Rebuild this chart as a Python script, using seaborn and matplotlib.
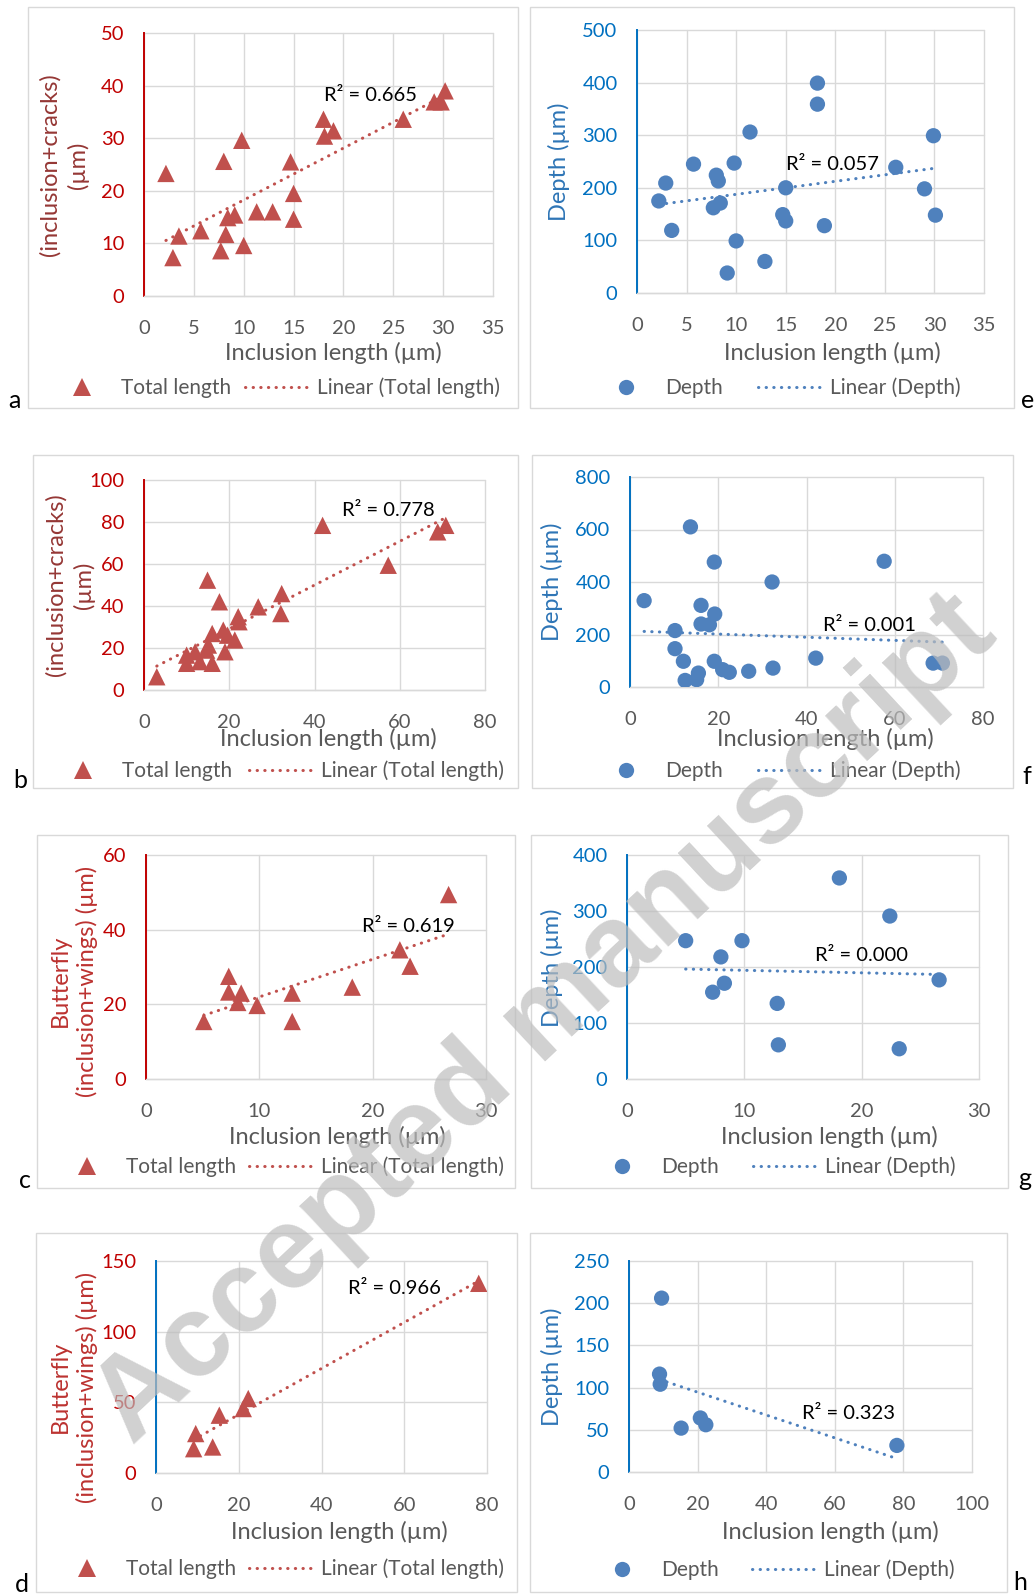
import numpy as np
import matplotlib
matplotlib.use("Agg")
import matplotlib.pyplot as plt
from matplotlib.lines import Line2D
from matplotlib.patches import Rectangle
import seaborn as sns

# ----------------------------------------------------------
# data
# ----------------------------------------------------------

# a - total length (inclusion+cracks) vs inclusion length
a_len = [2.2, 2.9, 3.5, 5.7, 7.7, 8.0, 8.2, 8.4, 9.1, 9.8, 10.0, 11.3,
         12.9, 14.7, 15.0, 15.0, 18.0, 18.1, 19.0, 26.0, 29.1, 29.8, 30.2]
a_total = [23.3, 7.3, 11.4, 12.4, 8.6, 25.6, 11.7, 14.9, 15.4, 29.6, 9.6, 16.0,
           16.0, 25.5, 19.5, 14.6, 33.6, 30.4, 31.4, 33.6, 36.9, 36.9, 39.0]

# e - depth vs inclusion length
e_len = [2.2, 2.9, 3.5, 5.7, 7.7, 8.0, 8.2, 8.4, 9.1, 9.8, 10.0, 11.4,
         12.9, 14.7, 15.0, 15.0, 18.2, 18.2, 18.9, 26.1, 29.0, 29.9, 30.1]
e_depth = [175, 209, 119, 245, 162, 224, 213, 171, 38, 247, 99, 306,
           60, 149, 137, 200, 399, 359, 128, 239, 198, 299, 148]

# b - total length (inclusion+cracks) vs inclusion length
b_len = [3.0, 10.0, 10.0, 12.0, 13.1, 14.7, 15.1, 14.9, 16.0, 16.0, 17.7, 19.0,
         18.6, 19.6, 21.3, 22.1, 22.3, 26.8, 32.1, 32.3, 41.9, 57.3, 68.9, 70.8]
b_total = [6.3, 16.6, 12.7, 18.2, 13.5, 19.0, 21.4, 52.3, 12.7, 26.9, 42.0, 18.2,
           28.5, 26.1, 23.8, 34.9, 32.5, 39.6, 36.4, 45.9, 78.4, 59.4, 75.3, 78.4]

# f - depth vs inclusion length
f_len = [3.2, 10.2, 10.2, 12.1, 12.5, 13.7, 15.1, 15.5, 16.1, 16.1, 18.0, 19.1,
         19.2, 19.1, 21.0, 22.5, 26.9, 32.2, 32.4, 42.1, 57.6, 68.7, 70.8]
f_depth = [329, 215, 146, 98, 25, 610, 28, 53, 311, 240, 237, 476,
           278, 98, 66, 56, 60, 400, 72, 110, 479, 91, 91]

# c - butterfly (inclusion+wings) vs inclusion length
c_len = [5.1, 7.3, 7.3, 8.4, 8.1, 9.8, 12.9, 12.9, 18.2, 22.4, 23.3, 26.7]
c_total = [15.4, 27.5, 23.3, 23.0, 20.5, 19.7, 23.0, 15.4, 24.6, 34.6, 30.2, 49.4]

# g - depth vs inclusion length
g_len = [5.0, 7.3, 8.0, 8.3, 9.8, 12.8, 12.9, 18.1, 22.4, 23.2, 26.6]
g_depth = [247, 155, 218, 171, 247, 135, 61, 359, 291, 54, 177]

# d - butterfly (inclusion+wings) vs inclusion length
d_len = [9.1, 9.6, 13.7, 15.3, 21.1, 22.3, 78.0]
d_total = [17.2, 27.9, 18.4, 40.9, 45.6, 52.7, 134.2]

# h - depth vs inclusion length
h_len = [9.5, 8.9, 9.1, 15.2, 20.8, 22.4, 78.1]
h_depth = [206, 116, 104, 52, 64, 56, 31.5]

r2_labels = ["R² = 0.665", "R² = 0.057", "R² = 0.778", "R² = 0.001",
             "R² = 0.619", "R² = 0.000", "R² = 0.966", "R² = 0.323"]

# ----------------------------------------------------------
# style
# ----------------------------------------------------------

sns.set_theme(style="white")
plt.rcParams['font.family'] = ['Lato', 'DejaVu Sans']

RED_TICK = '#C00000'
RED_LAB = '#953735'
RED_LAB2 = '#BC3230'
BLUE_TICK = '#0070C0'
BLUE_LAB = '#2E75B6'
MARK_RED = '#C0504D'
MARK_BLUE = '#4F81BD'
GREY = '#595959'
GRID = '#D9D9D9'
DOTS = (0, (0.1, 2.4))

TICK_FS = 14.5
LAB_FS = 17
R2_FS = 14.5
LEG_FS = 15
LEG_PX = LEG_FS * 100 / 72

W, H = 1036, 1596
fig = plt.figure(figsize=(W / 100, H / 100), dpi=100)


def fx(px):
    return px / W


def fy(py):
    return 1 - py / H


panels = [
    dict(letter='a', x=a_len, y=a_total, name='Total length', r2=r2_labels[0],
         box=(28, 7, 518, 408), plot=(144, 33, 493, 296), xmax=35, xstep=5,
         ymax=50, ystep=10, r2pos=(18.1, 38.1),
         ylabel='(inclusion+cracks)\n(µm)', ylab=(64, 165), xlab=(333, 353),
         leg=(49, 388, 14), let=(14, 401), spine=RED_TICK, tick=RED_TICK,
         labc=RED_LAB, red=True),
    dict(letter='e', x=e_len, y=e_depth, name='Depth', r2=r2_labels[1],
         box=(530, 7, 1014, 408), plot=(637, 30, 984, 293), xmax=35, xstep=5,
         ymax=500, ystep=100, r2pos=(15.06, 244),
         ylabel='Depth (µm)', ylab=(559, 162), xlab=(832, 353),
         leg=(593, 388, 35), let=(1028, 400), spine=BLUE_TICK, tick=BLUE_TICK,
         labc=BLUE_LAB, red=False),
    dict(letter='b', x=b_len, y=b_total, name='Total length', r2=r2_labels[2],
         box=(33, 455, 518, 788), plot=(144, 480, 485, 690), xmax=80, xstep=20,
         ymax=100, ystep=20, r2pos=(46.4, 85.3),
         ylabel='(inclusion+cracks)\n(µm)', ylab=(70, 585), xlab=(328, 739),
         leg=(50, 771, 17), let=(20, 780), spine=RED_TICK, tick=RED_TICK,
         labc=RED_LAB, red=True),
    dict(letter='f', x=f_len, y=f_depth, name='Depth', r2=r2_labels[3],
         box=(532, 455, 1013, 788), plot=(630, 477, 983, 687), xmax=80, xstep=20,
         ymax=800, ystep=200, r2pos=(43.8, 234),
         ylabel='Depth (µm)', ylab=(552, 582), xlab=(825, 739),
         leg=(593, 771, 35), let=(1027, 776), spine=BLUE_TICK, tick=BLUE_TICK,
         labc=BLUE_LAB, red=False),
    dict(letter='c', x=c_len, y=c_total, name='Total length', r2=r2_labels[4],
         box=(37, 835, 515, 1188), plot=(146, 855, 486, 1079), xmax=30, xstep=10,
         ymax=60, ystep=20, r2pos=(19.1, 40.9),
         ylabel='Butterfly\n(inclusion+wings) (µm)', ylab=(74, 981), xlab=(337, 1137),
         leg=(54, 1167, 13), let=(25, 1180), spine=RED_TICK, tick=RED_TICK,
         labc=RED_LAB2, red=True),
    dict(letter='g', x=g_len, y=g_depth, name='Depth', r2=r2_labels[5],
         box=(531, 835, 1008, 1188), plot=(627, 855, 979, 1079), xmax=30, xstep=10,
         ymax=400, ystep=100, r2pos=(16.0, 220),
         ylabel='Depth (µm)', ylab=(552, 968), xlab=(829, 1137),
         leg=(589, 1167, 34), let=(1025, 1178), spine=BLUE_TICK, tick=BLUE_TICK,
         labc=BLUE_LAB, red=False),
    dict(letter='d', x=d_len, y=d_total, name='Total length', r2=r2_labels[6],
         box=(36, 1233, 517, 1592), plot=(156, 1261, 487, 1473), xmax=80, xstep=20,
         ymax=150, ystep=50, r2pos=(46.5, 130.6),
         ylabel='Butterfly\n(inclusion+wings) (µm)', ylab=(74, 1387), xlab=(339, 1532),
         leg=(54, 1569, 13), let=(22, 1584), spine=BLUE_TICK, tick=RED_TICK,
         labc=RED_LAB2, red=True),
    dict(letter='h', x=h_len, y=h_depth, name='Depth', r2=r2_labels[7],
         box=(530, 1233, 1007, 1592), plot=(629, 1261, 972, 1472), xmax=100, xstep=20,
         ymax=250, ystep=50, r2pos=(50.4, 69.4),
         ylabel='Depth (µm)', ylab=(552, 1367), xlab=(830, 1532),
         leg=(589, 1570, 33), let=(1020, 1582), spine=BLUE_TICK, tick=BLUE_TICK,
         labc=BLUE_LAB, red=False),
]

for p in panels:

    # chart area frame
    l, t, r, b = p['box']
    fig.add_artist(Rectangle((fx(l), fy(b)), (r - l) / W, (b - t) / H,
                             transform=fig.transFigure, fill=False,
                             edgecolor=GRID, lw=1.0))

    pl, pt, pr, pb = p['plot']
    ax = fig.add_axes([fx(pl), fy(pb), (pr - pl) / W, (pb - pt) / H])
    ax.set_facecolor('none')

    mcol = MARK_RED if p['red'] else MARK_BLUE
    marker = '^' if p['red'] else 'o'
    msize = 12.5 if p['red'] else 11

    sns.regplot(x=np.array(p['x']), y=np.array(p['y']), ax=ax, scatter=False,
                ci=None, truncate=True, color=mcol,
                line_kws=dict(lw=2.2, linestyle=DOTS, dash_capstyle='round',
                              zorder=2))

    sns.scatterplot(x=p['x'], y=p['y'], ax=ax, marker=marker, s=msize ** 2,
                    color=mcol, edgecolor='none', linewidth=0, zorder=3,
                    legend=False)

    ax.set_xlim(0, p['xmax'])
    ax.set_ylim(0, p['ymax'])
    ax.set_xticks(np.arange(0, p['xmax'] + 0.01, p['xstep']))
    ax.set_yticks(np.arange(0, p['ymax'] + 0.01, p['ystep']))
    ax.grid(True, color=GRID, lw=1.0, clip_on=False)
    ax.set_axisbelow(True)

    for s in ['top', 'right']:
        ax.spines[s].set_visible(False)
    ax.spines['left'].set_color(p['spine'])
    ax.spines['left'].set_linewidth(1.4)
    ax.spines['bottom'].set_color(GRID)
    ax.spines['bottom'].set_linewidth(1.0)

    ax.tick_params(axis='y', direction='out', length=5, width=1,
                   color=p['spine'], labelcolor=p['tick'],
                   labelsize=TICK_FS, pad=9)
    ax.tick_params(axis='x', direction='out', length=5, width=1,
                   color=GRID, labelcolor=GREY, labelsize=TICK_FS, pad=12)

    ax.text(p['r2pos'][0], p['r2pos'][1], p['r2'], fontsize=R2_FS,
            color='black', ha='left', va='center', zorder=4)

    ax.set_xlabel('Inclusion length (µm)', fontsize=LAB_FS, color=GREY,
                  va='center')
    ax.xaxis.set_label_coords(fx(p['xlab'][0]), fy(p['xlab'][1]),
                              transform=fig.transFigure)
    ax.set_ylabel(p['ylabel'], fontsize=LAB_FS, color=p['labc'], va='center',
                  ha='center', linespacing=1.3)
    ax.yaxis.set_label_coords(fx(p['ylab'][0]), fy(p['ylab'][1]),
                              transform=fig.transFigure)

    # legend
    hx, hy, colsp = p['leg']
    handles = [
        Line2D([], [], marker=marker, ls='none', color=mcol, ms=msize,
               markeredgewidth=0),
        Line2D([], [], color=mcol, lw=2.2, ls=DOTS, dash_capstyle='round'),
    ]
    ax.legend(handles, [p['name'], 'Linear (' + p['name'] + ')'],
              loc='center left', bbox_to_anchor=(fx(hx), fy(hy)),
              bbox_transform=fig.transFigure, ncol=2, frameon=False,
              fontsize=LEG_FS, labelcolor=GREY, numpoints=1,
              handlelength=66 / LEG_PX, handletextpad=6 / LEG_PX,
              columnspacing=colsp / LEG_PX, borderpad=0, borderaxespad=0)

    fig.text(fx(p['let'][0]), fy(p['let'][1]), p['letter'], fontsize=18,
             color='black', ha='center', va='center')

# watermark
fig.text(fx(545), fy(1020), 'Accepted manuscript', rotation=43,
         rotation_mode='anchor', ha='center', va='center', fontsize=84,
         fontweight='bold', family=['Liberation Sans', 'DejaVu Sans'],
         color='#BDBDBD', alpha=0.7, zorder=100)

fig.savefig('out.png', dpi=100)
